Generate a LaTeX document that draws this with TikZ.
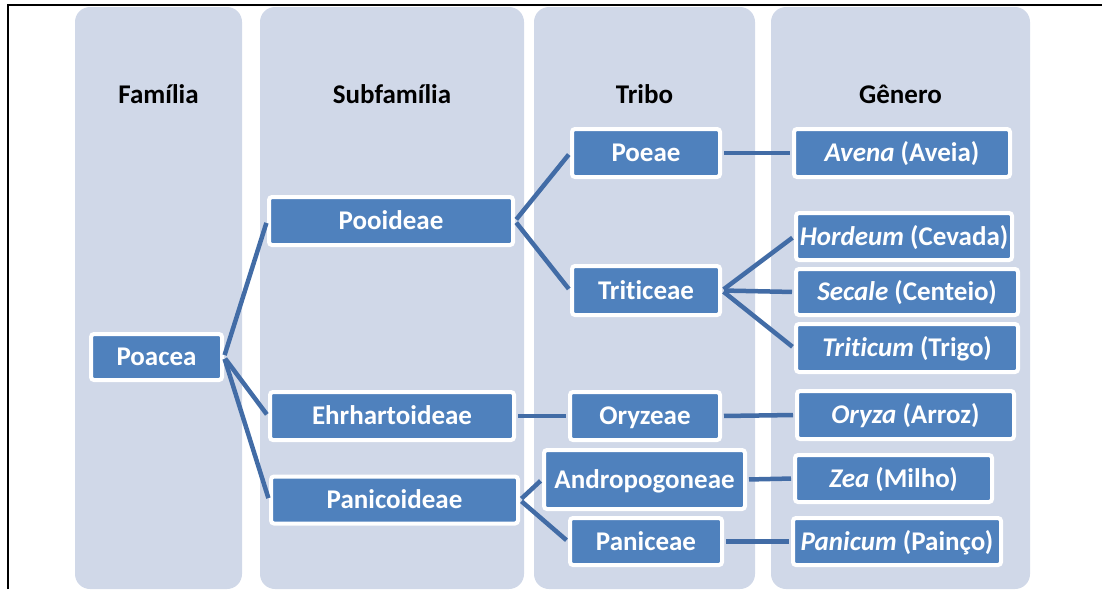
\documentclass[tikz,border=0pt]{standalone}
\usepackage{fontspec}
\setmainfont{Carlito}[Ligatures=NoCommon]
\usetikzlibrary{backgrounds}
\definecolor{colbg}{RGB}{208,216,232}
\definecolor{boxblue}{RGB}{79,129,189}
\definecolor{linkblue}{RGB}{66,108,166}
\tikzset{
	taxon/.style={fill=boxblue,draw=white,line width=4pt,rounded corners=3pt,
		text=white,font=\fontsize{27}{31}\selectfont\bfseries,inner sep=0pt,
		text height=17pt,text depth=0pt,align=center},
	link/.style={draw=linkblue,line width=4.5pt,shorten <=2pt,shorten >=2pt}
}
\begin{document}
\begin{tikzpicture}[x=1pt,y=-1pt]
		\useasboundingbox(0,0)rectangle(1102,589);
		\draw[line width=2pt](8,589)--(8,5)--(1102,5);
		\begin{scope}[on background layer]
			\foreach \xa/\xb/\title[count=\i] in {75/242/Família,260/524/Subfamília,534/755/Tribo,771/1030/Gênero}{
				\fill[colbg,rounded corners=15pt](\xa,7)rectangle(\xb,589);
				\node[font=\fontsize{27}{31}\selectfont\bfseries,text height=17pt,text depth=0pt](head\i)
					at({(\xa+\xb)/2},95){\title};
			}
		\end{scope}
		% familia
		\node[taxon,minimum width=131pt,minimum height=46pt](poacea)at(156.5,357){Poacea};
		% subfamilias
		\node[taxon,minimum width=244pt,minimum height=48pt](pooideae)at(391,221){Pooideae};
		\node[taxon,minimum width=244pt,minimum height=48pt](ehrhart)at(392,416){Ehrhartoideae};
		\node[taxon,minimum width=247pt,minimum height=47pt](panicoid)at(394.5,500){Panicoideae};
		% tribos
		\node[taxon,minimum width=148pt,minimum height=48pt](poeae)at(646,153){Poeae};
		\node[taxon,minimum width=148pt,minimum height=49pt](triticeae)at(646,290.5){Triticeae};
		\node[taxon,minimum width=150pt,minimum height=48pt](oryzeae)at(645,416){Oryzeae};
		\node[taxon,minimum width=201pt,minimum height=59pt](andropog)at(644.5,479.5){Andropogoneae};
		\node[taxon,minimum width=152pt,minimum height=47pt](paniceae)at(646,541.5){Paniceae};
		% generos
		\node[taxon,minimum width=216pt,minimum height=48pt](avena)at(902,153){\textit{Avena} (Aveia)};
		\node[taxon,minimum width=216pt,minimum height=47pt](hordeum)at(904,236.5){\textit{Hordeum} (Cevada)};
		\node[taxon,minimum width=222pt,minimum height=46pt](secale)at(907,292){\textit{Secale} (Centeio)};
		\node[taxon,minimum width=222pt,minimum height=48pt](triticum)at(907,348){\textit{Triticum} (Trigo)};
		\node[taxon,minimum width=217pt,minimum height=48pt](oryza)at(905.5,415){\textit{Oryza} (Arroz)};
		\node[taxon,minimum width=197pt,minimum height=47pt](zea)at(893.5,478.5){\textit{Zea} (Milho)};
		\node[taxon,minimum width=208pt,minimum height=47pt](panicum)at(897,541.5){\textit{Panicum} (Painço)};
		% ligacoes
		\foreach \a/\b in {poacea/pooideae,poacea/ehrhart,poacea/panicoid,
			pooideae/poeae,pooideae/triticeae,ehrhart/oryzeae,panicoid/andropog,panicoid/paniceae,
			poeae/avena,triticeae/hordeum,triticeae/secale,triticeae/triticum,
			oryzeae/oryza,andropog/zea,paniceae/panicum}
			\draw[link](\a.east)--(\b.west);

	\end{tikzpicture}
\end{document}
